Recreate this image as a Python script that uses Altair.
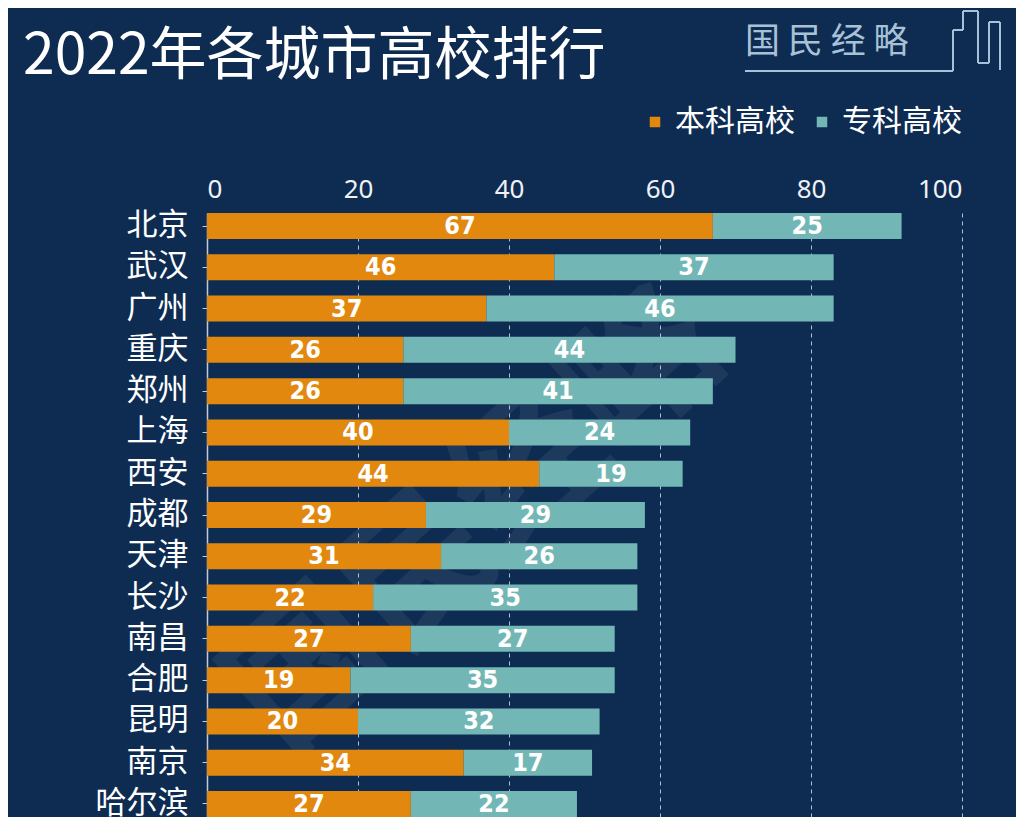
import altair as alt
import pandas as pd

cities = ["北京", "武汉", "广州", "重庆", "郑州", "上海", "西安", "成都",
          "天津", "长沙", "南昌", "合肥", "昆明", "南京", "哈尔滨"]
undergrad = [67, 46, 37, 26, 26, 40, 44, 29, 31, 22, 27, 19, 20, 34, 27]
college = [25, 37, 46, 44, 41, 24, 19, 29, 26, 35, 27, 35, 32, 17, 22]
types = ["本科高校", "专科高校"]
x_ticks = [0, 20, 40, 60, 80, 100]

rows = []
for c, u, k in zip(cities, undergrad, college):
    rows.append({"city": c, "type": types[0], "value": u, "ord": 0})
    rows.append({"city": c, "type": types[1], "value": k, "ord": 1})
df = pd.DataFrame(rows)

BG = "#0e2c52"
ORANGE = "#e2880f"
TEAL = "#72b7b5"
LOGO = "#a7c2d8"
CJK = "Noto Sans CJK SC"

base = alt.Chart(df).transform_stack(
    stack="value", groupby=["city"], as_=["x0", "x1"], sort=[alt.SortField("ord")]
).transform_calculate(mid="(datum.x0 + datum.x1) / 2")

y_enc = alt.Y("city:N", sort=cities, title=None,
              scale=alt.Scale(paddingInner=0.37, paddingOuter=0),
              axis=alt.Axis(labelFont=CJK, labelFontSize=31, labelColor="#ffffff",
                            labelPadding=14, tickSize=5, tickColor="#c3cad6",
                            domainColor="#c3cad6", domainWidth=1.5, grid=False))

x_scale = alt.Scale(domain=[0, 100], nice=False)

bars = base.mark_bar().encode(
    x=alt.X("x0:Q", scale=x_scale, title=None,
            axis=alt.Axis(orient="top", values=x_ticks, labelFontSize=26,
                          labelColor="#eef2f6", labelFont="Noto Sans",
                          ticks=False, tickSize=0, domain=False, labelPadding=11,
                          grid=True, gridColor="#b4bfce", gridDash=[4, 4],
                          gridWidth=1)),
    x2="x1:Q",
    y=y_enc,
    color=alt.Color("type:N", sort=types,
                    scale=alt.Scale(domain=types, range=[ORANGE, TEAL]),
                    legend=alt.Legend(title=None, orient="none", direction="horizontal",
                                      legendX=433, legendY=-106,
                                      symbolType="square", symbolSize=110,
                                      symbolStrokeWidth=0, labelFont=CJK,
                                      labelFontSize=30, labelColor="#ffffff",
                                      labelOffset=5, columnPadding=12)),
)

labels = base.mark_text(font="DejaVu Sans Condensed", fontWeight="bold",
                        fontSize=25, color="#ffffff", baseline="middle",
                        align="center").encode(
    x=alt.X("mid:Q", scale=x_scale),
    y=alt.Y("city:N", sort=cities),
    text="value:Q",
)

title = alt.Chart(pd.DataFrame({"t": ["2022年各城市高校排行"]})).mark_text(
    font=CJK, fontSize=57, color="#ffffff", align="left", baseline="middle"
).encode(x=alt.value(-184), y=alt.value(-156), text="t:N")

logo = alt.Chart(pd.DataFrame({"t": ["国  民  经  略"]})).mark_text(
    font=CJK, fontSize=35, color=LOGO, align="left", baseline="middle"
).encode(x=alt.value(538), y=alt.value(-171), text="t:N")

# logo underline and skyline outline (decoration, pixel space)
sky_x = [538, 746, 746, 756, 756, 771, 771, 782, 782, 793, 793]
sky_y = [-142, -142, -183, -183, -202, -202, -150, -150, -191, -191, -143]
segs = pd.DataFrame({
    "x": sky_x[:-1], "y": sky_y[:-1], "x2": sky_x[1:], "y2": sky_y[1:],
})
skyline = alt.Chart(segs).mark_rule(color=LOGO, strokeWidth=2).encode(
    x=alt.X("x:Q", scale=None), x2="x2:Q",
    y=alt.Y("y:Q", scale=None), y2="y2:Q",
)

watermark = alt.Chart(pd.DataFrame({"t": ["国民经略"]})).mark_text(
    font=CJK, fontSize=150, color="#ffffff", opacity=0.06, angle=318,
    align="center", baseline="middle", fontWeight="bold"
).encode(x=alt.value(270), y=alt.value(310), text="t:N")

chart = alt.layer(watermark, bars, labels, title, logo, skyline).properties(
    width=755, height=604,
    background=BG,
    padding={"left": 199, "top": 205, "right": 54, "bottom": 0},
    autosize=alt.AutoSizeParams(type="none"),
).configure_view(stroke=None)

chart.save("out.html", embed_options={"renderer": "svg", "actions": False})
